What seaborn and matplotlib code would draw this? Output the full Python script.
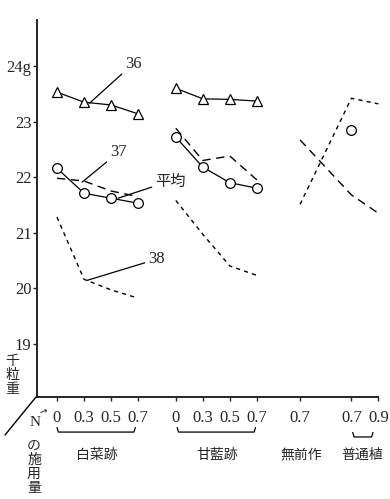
import numpy as np
import pandas as pd
import matplotlib
matplotlib.use('Agg')
import matplotlib.pyplot as plt
import matplotlib.transforms as mtransforms
from matplotlib.lines import Line2D
import seaborn as sns

### Data (thousand grain weight, g):
groups = ['白菜跡', '甘藍跡', '無前作', '普通植']
levels = {'白菜跡': ['0', '0.3', '0.5', '0.7'],
          '甘藍跡': ['0', '0.3', '0.5', '0.7'],
          '無前作': ['0.7'],
          '普通植': ['0.7', '0.9']}

s36_hakusai = [23.53, 23.35, 23.30, 23.14]
s36_kanran = [23.60, 23.41, 23.40, 23.37]
s37_hakusai = [22.16, 21.71, 21.62, 21.53]
s37_kanran = [22.72, 22.18, 21.90, 21.80]
s37_futsu = [22.85]
mean_hakusai = [21.98, 21.93, 21.75, 21.65]
mean_kanran = [22.88, 22.30, 22.38, 21.95]
s38_hakusai = [21.28, 20.16, 19.97, 19.82]
s38_kanran = [21.58, 20.97, 20.40, 20.23]
# 無前作 0.7 -> 普通植 0.7, 0.9
s38_cross = [21.51, 23.42, 23.32]
mean_cross = [22.67, 21.68, 21.35]

y_ticks = [19, 20, 21, 22, 23, 24]
y_labels = ['19', '20', '21', '22', '23', '24g']

### Layout: where each group starts on the x axis
group_start = {'白菜跡': 0.0, '甘藍跡': 4.4, '無前作': 9.0, '普通植': 10.9}
group_step = {'白菜跡': 1.0, '甘藍跡': 1.0, '無前作': 1.0, '普通植': 1.0}

def xpos(group):
    return [group_start[group] + i * group_step[group] for i in range(len(levels[group]))]

sns.set_style('ticks')
plt.rcParams['font.family'] = ['Liberation Serif', 'Noto Sans CJK JP', 'DejaVu Sans']
jp = ['Noto Sans CJK JP', 'DejaVu Sans']

fig = plt.figure(figsize=(3.9, 4.99), dpi=100)
ax = fig.add_axes([37/390, 1 - 397/499, 353/390, (397 - 20)/499])

solid = dict(color='black', linewidth=0.9)
long_dash = dict(color='black', linewidth=1.0, linestyle=(0, (6, 4)))
short_dash = dict(color='black', linewidth=1.0, linestyle=(0, (3, 3)))
tri = dict(marker='^', markersize=7, markerfacecolor='white', markeredgecolor='black', markeredgewidth=0.9)
circ = dict(marker='o', markersize=7, markerfacecolor='white', markeredgecolor='black', markeredgewidth=0.9)

# 36 (triangles):
sns.lineplot(x=xpos('白菜跡'), y=s36_hakusai, ax=ax, **solid, **tri)
sns.lineplot(x=xpos('甘藍跡'), y=s36_kanran, ax=ax, **solid, **tri)

# 平均 (long dashes):
sns.lineplot(x=xpos('白菜跡'), y=mean_hakusai, ax=ax, **long_dash)
sns.lineplot(x=xpos('甘藍跡'), y=mean_kanran, ax=ax, **long_dash)
cross_x = xpos('無前作') + xpos('普通植')
sns.lineplot(x=cross_x, y=mean_cross, ax=ax, **long_dash)

# 38 (short dashes):
sns.lineplot(x=xpos('白菜跡'), y=s38_hakusai, ax=ax, **short_dash)
sns.lineplot(x=xpos('甘藍跡'), y=s38_kanran, ax=ax, **short_dash)
sns.lineplot(x=cross_x, y=s38_cross, ax=ax, **short_dash)

# 37 (circles):
sns.lineplot(x=xpos('白菜跡'), y=s37_hakusai, ax=ax, **solid, **circ)
sns.lineplot(x=xpos('甘藍跡'), y=s37_kanran, ax=ax, **solid, **circ)
ax.plot(xpos('普通植')[:1], s37_futsu, linestyle='none', **circ)

### Series labels with leader lines:
leader = dict(arrowstyle='-', color='black', linewidth=0.9, shrinkA=0, shrinkB=0)
ax.annotate('36', xy=(1.2, 23.33), xytext=(2.52, 23.9), fontsize=12, ha='left', va='bottom', arrowprops=leader)
ax.annotate('37', xy=(0.93, 21.91), xytext=(1.96, 22.3), fontsize=12, ha='left', va='bottom', arrowprops=leader)
ax.annotate('平均', xy=(2.26, 21.62), xytext=(3.63, 21.93), fontsize=11, ha='left', va='center',
            family=jp, arrowprops=leader)
ax.annotate('38', xy=(1.11, 20.14), xytext=(3.37, 20.52), fontsize=12, ha='left', va='center', arrowprops=leader)

### Axes styling:
ax.set_xlim(-0.74, 12.33)
ax.set_ylim(18.04, 24.83)
ax.set_yticks(y_ticks)
ax.set_yticklabels(y_labels, fontsize=12)
tick_x = xpos('白菜跡') + xpos('甘藍跡') + xpos('無前作') + xpos('普通植')
tick_lab = levels['白菜跡'] + levels['甘藍跡'] + levels['無前作'] + levels['普通植']
ax.set_xticks(tick_x)
ax.set_xticklabels(tick_lab, fontsize=12)
ax.tick_params(axis='x', length=3, width=1, pad=6)
ax.tick_params(axis='y', length=3, width=1, pad=1)
for side in ['top', 'right']:
    ax.spines[side].set_visible(False)
ax.spines['left'].set_linewidth(1.4)
ax.spines['bottom'].set_linewidth(1.4)
ax.spines['bottom'].set_bounds(-0.74, 11.9)
ax.grid(False)

### Group braces and names under the axis:
trans = mtransforms.blended_transform_factory(ax.transData, ax.transAxes)
braces = {'白菜跡': (0.0, 2.9, -0.093), '甘藍跡': (4.45, 7.35, -0.093), '普通植': (10.95, 11.7, -0.106)}
for name, (x0, x1, yb) in braces.items():
    ax.plot([x0, x0 + 0.05, x1 - 0.05, x1], [yb + 0.012, yb, yb, yb + 0.012],
            color='black', linewidth=0.9, transform=trans, clip_on=False)
name_x = {'白菜跡': 1.48, '甘藍跡': 5.93, '無前作': 9.04, '普通植': 11.3}
for name in groups:
    ax.text(name_x[name], -0.154, name, transform=trans, ha='center', va='center',
            fontsize=10, family=jp)

### Axis titles and the oblique N axis:
fig.text(12/390, 1 - 375/499, '千\n粒\n重', ha='center', va='center', fontsize=10,
         family=jp, linespacing=1.0)
fig.text(35/390, 1 - 423/499, 'N', ha='center', va='center', fontsize=11)
fig.text(44/390, 1 - 412/499, '→', ha='center', va='center', fontsize=7, rotation=20,
         family=['DejaVu Sans'])
fig.text(34/390, 1 - 467/499, 'の\n施\n用\n量', ha='center', va='center', fontsize=10,
         family=jp, linespacing=1.0)
fig.add_artist(Line2D([36/390, 5/390], [1 - 397/499, 1 - 435/499], color='black', linewidth=1.0))

plt.savefig('out.png', dpi=100)
